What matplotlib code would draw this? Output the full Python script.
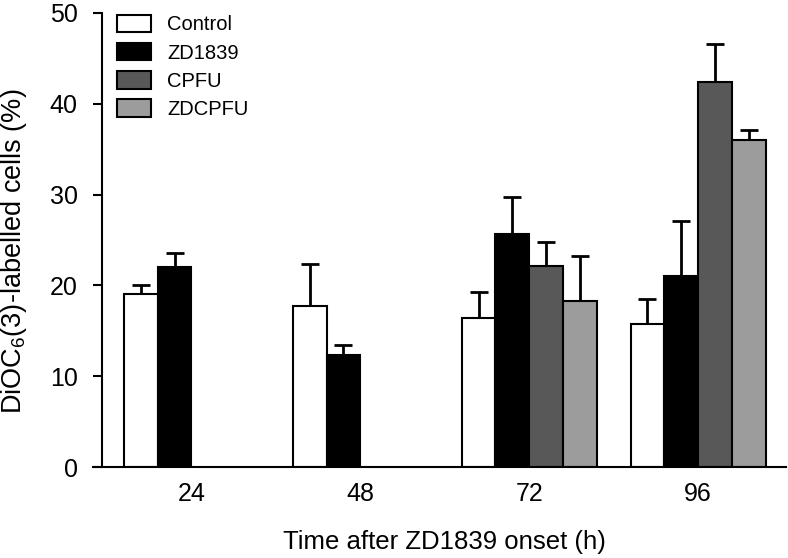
import matplotlib
matplotlib.use("Agg")
import matplotlib.pyplot as plt
import numpy as np
from matplotlib.patches import Patch

plt.rcParams['font.family'] = ['Liberation Sans', 'DejaVu Sans']
plt.rcParams['mathtext.fontset'] = 'custom'
plt.rcParams['mathtext.rm'] = 'Liberation Sans'
plt.rcParams['mathtext.it'] = 'Liberation Sans:italic'

times = ['24', '48', '72', '96']
series = ['Control', 'ZD1839', 'CPFU', 'ZDCPFU']
control = [19.0, 17.7, 16.4, 15.7]
control_err = [1.0, 4.7, 2.9, 2.8]
zd1839 = [22.0, 12.3, 25.7, 21.0]
zd1839_err = [1.6, 1.1, 4.0, 6.1]
cpfu = [np.nan, np.nan, 22.1, 42.4]
cpfu_err = [np.nan, np.nan, 2.7, 4.2]
zdcpfu = [np.nan, np.nan, 18.3, 36.0]
zdcpfu_err = [np.nan, np.nan, 4.9, 1.1]
colors = ['#ffffff', '#000000', '#585858', '#9c9c9c']

values = [control, zd1839, cpfu, zdcpfu]
errors = [control_err, zd1839_err, cpfu_err, zdcpfu_err]

fig = plt.figure(figsize=(7.88, 5.58), dpi=100)
ax = fig.add_axes([0.1294, 0.163, 0.868, 0.814])

x = np.arange(len(times))
width = 0.2
for i, (vals, errs, col, name) in enumerate(zip(values, errors, colors, series)):
    pos = x + (i - 1.5) * width
    ax.bar(pos, vals, width, color=col, edgecolor='black', linewidth=1.5,
           label=name, zorder=2)
    ax.errorbar(pos, vals, yerr=[np.zeros(len(errs)), errs], fmt='none',
                ecolor='black', elinewidth=2, capsize=6.7, capthick=2, zorder=1)

ax.set_xlim(-0.53, 3.52)
ax.set_ylim(0, 50)
ax.set_xticks(x)
ax.set_xticklabels(times)
ax.set_yticks([0, 10, 20, 30, 40, 50])
ax.tick_params(axis='x', length=0, pad=11, labelsize=18)
ax.tick_params(axis='y', length=6.5, width=1.5, pad=11, labelsize=18, direction='out')
for s in ['top', 'right']:
    ax.spines[s].set_visible(False)
for s in ['left', 'bottom']:
    ax.spines[s].set_linewidth(1.5)
ax.spines['bottom'].set_bounds(-0.583, 3.52)

ax.set_xlabel('Time after ZD1839 onset (h)', fontsize=18.5, labelpad=17)
ax.set_ylabel('DiOC$_6$(3)-labelled cells (%)', fontsize=19.5)
ax.yaxis.set_label_coords(-0.107, 0.475)

handles = [Patch(facecolor=c, edgecolor='black', linewidth=1.5) for c in colors]
ax.legend(handles, series, loc='upper left', bbox_to_anchor=(0.022, 0.996),
          frameon=False, fontsize=14.5, handlelength=1.69, handleheight=0.95,
          labelspacing=0.43, handletextpad=0.8, borderaxespad=0, borderpad=0)

fig.savefig('out.png', dpi=100)
